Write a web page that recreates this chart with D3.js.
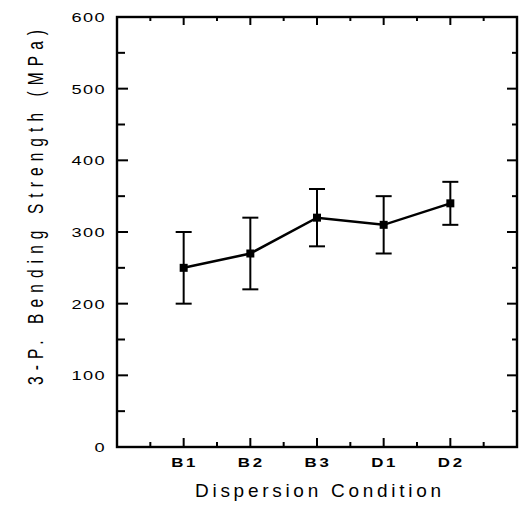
<!DOCTYPE html>
<html><head><meta charset="utf-8">
<script src="https://cdn.jsdelivr.net/npm/d3@7"></script>
<style>
html,body{margin:0;padding:0;background:#fff;}
svg{display:block;}
text{font-family:Arial,"Liberation Sans",Helvetica,sans-serif;fill:#000;}
</style></head>
<body>
<svg id="c" width="522" height="506"></svg>
<script>
const categories = ["B1","B2","B3","D1","D2"];
const strength = [250, 270, 320, 310, 340];
const errLow = [200, 220, 280, 270, 310];
const errHigh = [300, 320, 360, 350, 370];
const yTicks = [0,100,200,300,400,500,600];
const yTitle = "3-P. Bending Strength (MPa)";
const xTitle = "Dispersion Condition";

const svg = d3.select("#c");
const L=117, R=517, T=17, B=447;
const x = d3.scaleLinear().domain([0, categories.length+1]).range([L,R]);
const y = d3.scaleLinear().domain([0,600]).range([B,T]);
const xPos = (d,i)=>x(i+1);

// frame
svg.append("rect").attr("x",L).attr("y",T).attr("width",R-L).attr("height",B-T)
  .attr("fill","none").attr("stroke","#000").attr("stroke-width",2.4);

// x ticks (bottom & top) major at categories, minor at halves
const xMajor = d3.range(1, categories.length+1);
const xMinor = d3.range(0.5, categories.length+1.5, 1);
const tg = svg.append("g").attr("stroke","#000").attr("stroke-width",2);
xMajor.forEach(v=>{
  tg.append("line").attr("x1",x(v)).attr("x2",x(v)).attr("y1",B).attr("y2",B-9);
  tg.append("line").attr("x1",x(v)).attr("x2",x(v)).attr("y1",T).attr("y2",T+8);
});
xMinor.forEach(v=>{
  tg.append("line").attr("x1",x(v)).attr("x2",x(v)).attr("y1",B).attr("y2",B-5);
  tg.append("line").attr("x1",x(v)).attr("x2",x(v)).attr("y1",T).attr("y2",T+4);
});
// y ticks left & right
d3.range(0,601,50).forEach(v=>{
  const major = v%100===0;
  const len = major?11:8;
  tg.append("line").attr("x1",L).attr("x2",L+len).attr("y1",y(v)).attr("y2",y(v));
  tg.append("line").attr("x1",R).attr("x2",R-(major?10:5)).attr("y1",y(v)).attr("y2",y(v));
});

// y tick labels
svg.append("g").selectAll("text").data(yTicks).join("text")
  .attr("transform",d=>`translate(106,${y(d)+5}) scale(1.4,1)`)
  .attr("text-anchor","end").attr("font-size",13).attr("letter-spacing",1)
  .text(d=>d);

// x tick labels
svg.append("g").selectAll("text").data(categories).join("text")
  .attr("transform",(d,i)=>`translate(${xPos(d,i)+1},${467}) scale(1.35,1)`)
  .attr("text-anchor","middle").attr("font-size",12.5).attr("font-weight","bold")
  .attr("letter-spacing",2)
  .text(d=>d);

// axis titles
svg.append("text").attr("x",195).attr("y",497).attr("font-size",19)
  .attr("textLength",246).attr("lengthAdjust","spacing").text(xTitle);
svg.append("text").attr("transform","translate(43,385) rotate(-90) scale(1,1.45)")
  .attr("font-size",15.5).attr("textLength",355).attr("lengthAdjust","spacing")
  .text(yTitle);

// error bars
const eb = svg.append("g").attr("stroke","#000").attr("stroke-width",2);
categories.forEach((c,i)=>{
  const cx = xPos(c,i);
  eb.append("line").attr("x1",cx).attr("x2",cx).attr("y1",y(errLow[i])).attr("y2",y(errHigh[i]));
  eb.append("line").attr("x1",cx-8).attr("x2",cx+8).attr("y1",y(errLow[i])).attr("y2",y(errLow[i]));
  eb.append("line").attr("x1",cx-8).attr("x2",cx+8).attr("y1",y(errHigh[i])).attr("y2",y(errHigh[i]));
});

// line
const line = d3.line().x((d,i)=>xPos(d,i)).y((d,i)=>y(strength[i]));
svg.append("path").datum(categories).attr("d",line)
  .attr("fill","none").attr("stroke","#000").attr("stroke-width",2.5);

// markers
svg.append("g").selectAll("rect").data(categories).join("rect")
  .attr("x",(d,i)=>xPos(d,i)-4).attr("y",(d,i)=>y(strength[i])-4)
  .attr("width",8).attr("height",8).attr("fill","#000");
</script>
</body></html>
